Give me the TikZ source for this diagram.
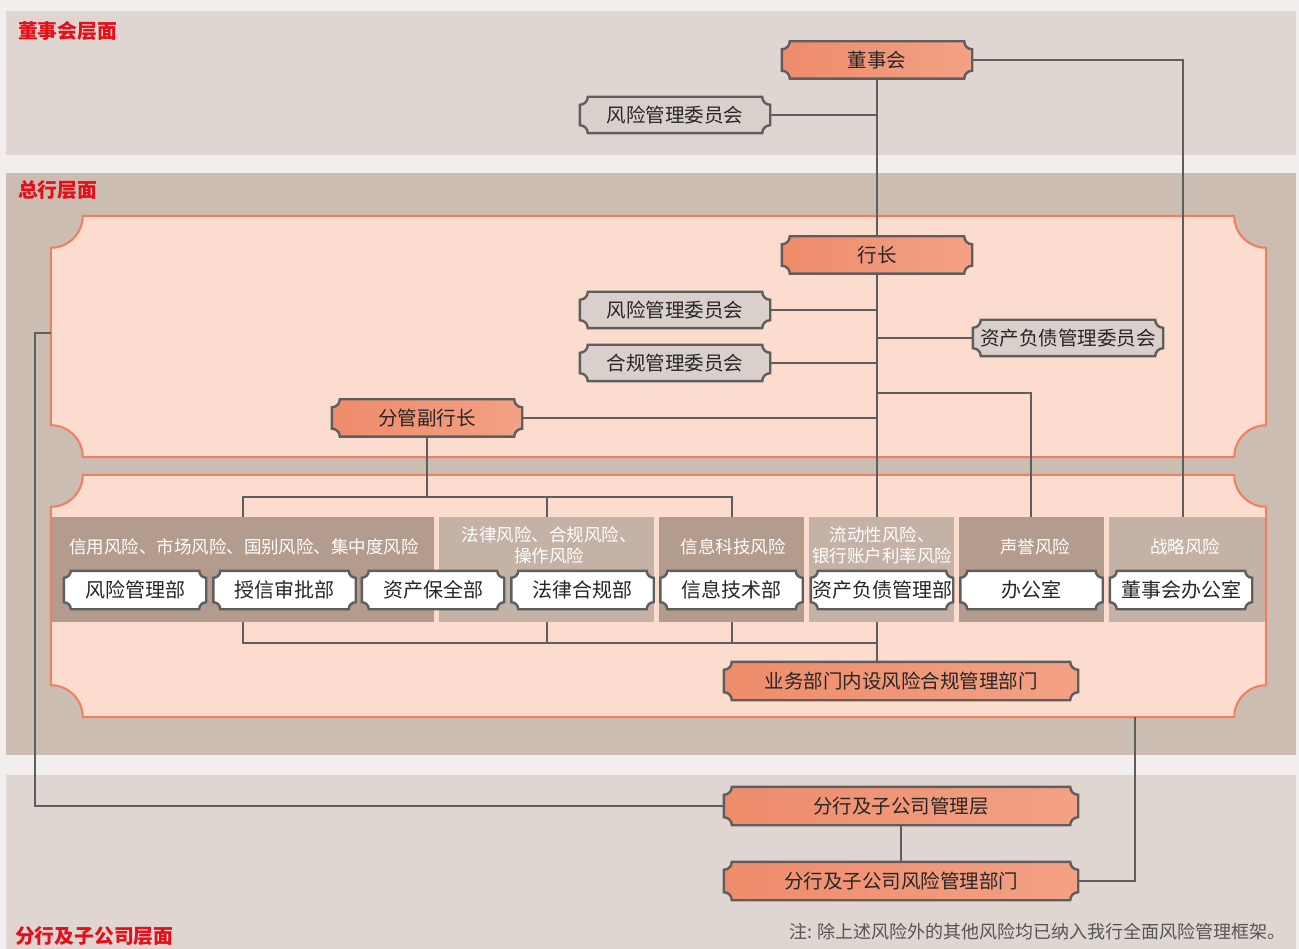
\documentclass[tikz,border=0pt]{standalone}
\usepackage{fontspec}
\setmainfont{Noto Sans CJK SC}
\usetikzlibrary{calc}
\definecolor{pagebg}{HTML}{F1EEED}
\definecolor{bandlt}{HTML}{DFD6D2}
\definecolor{banddk}{HTML}{CCBDB2}
\definecolor{panelfill}{HTML}{FCDCCF}
\definecolor{panelline}{HTML}{EF7F5E}
\definecolor{salmonA}{HTML}{EE8C6B}
\definecolor{salmonB}{HTML}{F3A185}
\definecolor{greyfill}{HTML}{D9D0CC}
\definecolor{catdk}{HTML}{B39B8D}
\definecolor{catlt}{HTML}{C5B2A6}
\definecolor{wirec}{HTML}{5E5E5E}
\definecolor{labred}{HTML}{E50F1A}
\definecolor{txt}{HTML}{262626}
\definecolor{notegray}{HTML}{555555}
\pgfdeclarelayer{bg}\pgfdeclarelayer{wires}\pgfdeclarelayer{cats}\pgfdeclarelayer{frames}
\pgfsetlayers{bg,wires,cats,frames,main}
\newcommand\ornpath[3]{%
  \path[#3] let \p1=(#1.north west), \p2=(#1.south east) in
   (\x1+#2,\y1) -- (\x2-#2,\y1) arc[start angle=180,end angle=270,radius=#2]
   -- (\x2,\y2+#2) arc[start angle=90,end angle=180,radius=#2]
   -- (\x1+#2,\y2) arc[start angle=0,end angle=90,radius=#2]
   -- (\x1,\y1-#2) arc[start angle=270,end angle=360,radius=#2] -- cycle;}
\tikzset{
  base/.style={inner sep=0pt, text=txt, font=\fontsize{19.5}{22}\selectfont},
  bignode/.style={base, minimum width=190pt, minimum height=37pt},
  widenode/.style={base, minimum width=354pt, minimum height=38pt},
  whnode/.style={base, font=\fontsize{20}{22}\selectfont, minimum width=142pt, minimum height=38pt},
  catbox/.style={inner sep=0pt, minimum height=105pt},
  catlab/.style={inner sep=0pt, text=white, align=center, font=\fontsize{17.5}{21}\selectfont},
  panel/.style={inner sep=0pt, minimum width=1215pt},
  lvl/.style={inner sep=0pt, anchor=west, text=labred, font=\bfseries\fontsize{19.8}{22}\selectfont},
  wire/.style={draw=wirec, line width=2pt},
  salmfr/.style={draw=wirec, line width=2.4pt, left color=salmonA, right color=salmonB},
  greyfr/.style={draw=wirec, line width=2.4pt, fill=greyfill},
  whitefr/.style={draw=wirec, line width=2.4pt, fill=white},
  panelfr/.style={draw=panelline, line width=2pt, fill=panelfill}
}
\begin{document}
\begin{tikzpicture}[x=1pt,y=-1pt]
\useasboundingbox (0,0) rectangle (1299,949);
% panels (anchor nodes)
\node[panel, minimum height=241pt] (p1) at (658.5,336.5) {};
\node[panel, minimum height=242pt] (p2) at (658.5,596) {};
\begin{pgfonlayer}{bg}
\fill[pagebg] (0,0) rectangle (1299,949);
\fill[bandlt] (6,11) rectangle (1296,155);
\fill[banddk] (6,173) rectangle (1296,755);
\fill[bandlt] (6,775) rectangle (1296,949);
\ornpath{p1}{32pt}{panelfr}
\ornpath{p2}{32pt}{panelfr}
\end{pgfonlayer}
% level labels
\node[lvl] (lv1) at (18,31) {董事会层面};
\node[lvl] (lv2) at (18,190) {总行层面};
\node[lvl] (lv3) at (15,936) {分行及子公司层面};
% main nodes
\node[bignode] (dsh) at (877,60) {董事会};
\node[bignode, minimum height=36pt] (rmcB) at (675,115) {风险管理委员会};
\node[bignode] (hz) at (877,255) {行长};
\node[bignode, minimum height=36pt] (rmcH) at (675,310) {风险管理委员会};
\node[bignode, minimum height=36pt] (cmc) at (675,363) {合规管理委员会};
\node[bignode, minimum height=36pt] (alm) at (1068,338) {资产负债管理委员会};
\node[bignode] (fg) at (427,418) {分管副行长};
% category boxes
\begin{pgfonlayer}{cats}
\node[catbox, fill=catdk, minimum width=382pt] (cat1) at (243,569.5) {};
\node[catbox, fill=catlt, minimum width=215pt] (cat2) at (546.5,569.5) {};
\node[catbox, fill=catdk, minimum width=145pt] (cat3) at (731.5,569.5) {};
\node[catbox, fill=catlt, minimum width=145pt] (cat4) at (881.5,569.5) {};
\node[catbox, fill=catdk, minimum width=145pt] (cat5) at (1031.5,569.5) {};
\node[catbox, fill=catlt, minimum width=156pt] (cat6) at (1187,569.5) {};
\end{pgfonlayer}
\node[catlab] (l1) at (244,547) {信用风险、市场风险、国别风险、集中度风险};
\node[catlab] (l2) at (549,545.5) {法律风险、合规风险、\\操作风险};
\node[catlab] (l3) at (733,547) {信息科技风险};
\node[catlab] (l4) at (882,545.5) {流动性风险、\\银行账户利率风险};
\node[catlab] (l5) at (1035,547) {声誉风险};
\node[catlab] (l6) at (1185,547) {战略风险};
% department nodes
\node[whnode] (d1) at (135,590) {风险管理部};
\node[whnode] (d2) at (284.5,590) {授信审批部};
\node[whnode] (d3) at (433,590) {资产保全部};
\node[whnode] (d4) at (582.5,590) {法律合规部};
\node[whnode] (d5) at (731.5,590) {信息技术部};
\node[whnode] (d6) at (882,590) {资产负债管理部};
\node[whnode] (d7) at (1031.5,590) {办公室};
\node[whnode] (d8) at (1181,590) {董事会办公室};
% bottom nodes
\node[widenode] (yw) at (901,681) {业务部门内设风险合规管理部门};
\node[widenode] (fgl) at (901,806) {分行及子公司管理层};
\node[widenode] (fgr) at (901,881) {分行及子公司风险管理部门};
% note
\node[inner sep=0pt, anchor=east, text=notegray, font=\fontsize{18}{20}\selectfont] (note) at (1286,932) {注: 除上述风险外的其他风险均已纳入我行全面风险管理框架。};
% frames
\begin{pgfonlayer}{frames}
\ornpath{dsh}{8pt}{salmfr}
\ornpath{hz}{8pt}{salmfr}
\ornpath{fg}{8pt}{salmfr}
\ornpath{yw}{8pt}{salmfr}
\ornpath{fgl}{8pt}{salmfr}
\ornpath{fgr}{8pt}{salmfr}
\ornpath{rmcB}{8pt}{greyfr}
\ornpath{rmcH}{8pt}{greyfr}
\ornpath{cmc}{8pt}{greyfr}
\ornpath{alm}{8pt}{greyfr}
\foreach \d in {d1,d2,d3,d4,d5,d6,d7,d8}{\ornpath{\d}{7pt}{whitefr}}
\end{pgfonlayer}
% connectors
\coordinate (c6) at (1183,517);
\coordinate (c5) at (1031,517);
\coordinate (j1) at (877,393);
\coordinate (bus1) at (427,497);
\coordinate (bus2) at (877,643);
\coordinate (lp) at (35,333);
\coordinate (c7) at (1135,717);
\begin{pgfonlayer}{wires}
\draw[wire] (dsh.south) -- (hz.north);
\draw[wire] (rmcB.east) -- (rmcB.east -| dsh.south);
\draw[wire] (dsh.east) -| (c6);
\draw[wire] (hz.south) -- (hz.south |- yw.north);
\draw[wire] (rmcH.east) -- (rmcH.east -| hz.south);
\draw[wire] (cmc.east) -- (cmc.east -| hz.south);
\draw[wire] (alm.west) -- (alm.west -| hz.south);
\draw[wire] (fg.east) -- (fg.east -| hz.south);
\draw[wire] (j1) -| (c5);
\draw[wire] (fg.south) -- (bus1);
\draw[wire] (cat1.north) |- (bus1) -| (cat3.north);
\draw[wire] (cat2.north) -- (cat2.north |- bus1);
\draw[wire] (cat1.south) |- (bus2);
\draw[wire] (cat2.south) -- (cat2.south |- bus2);
\draw[wire] (cat3.south) -- (cat3.south |- bus2);
\draw[wire] (fgl.west) -| (lp) -- (lp -| p1.west);
\draw[wire] (fgl.south) -- (fgr.north);
\draw[wire] (fgr.east) -| (c7);
\end{pgfonlayer}
\end{tikzpicture}
\end{document}
